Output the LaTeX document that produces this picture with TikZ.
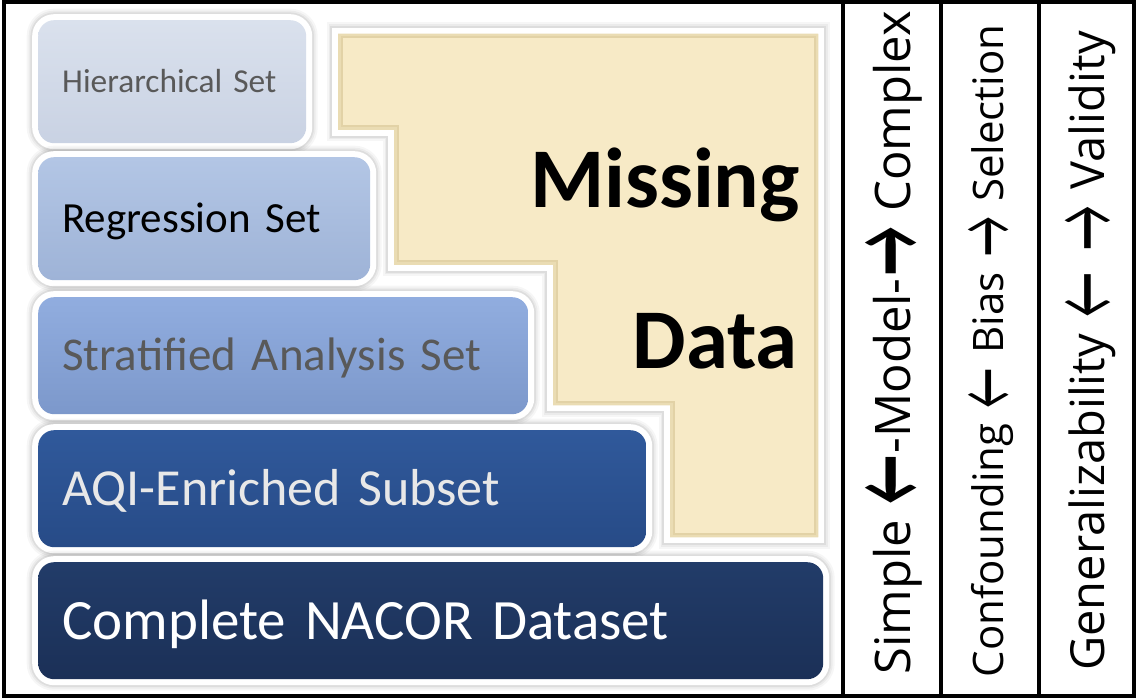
\documentclass[tikz,border=0pt]{standalone}
\usepackage{fontspec}
\usepackage{graphicx}
\setmainfont{Carlito}
\newfontfamily\arrfont{Carlito}
\newfontfamily\colfont{Open Sans}
\usetikzlibrary{backgrounds}
\definecolor{hierTop}{HTML}{DAE1ED}
\definecolor{hierBot}{HTML}{C9D2E3}
\definecolor{regrTop}{HTML}{B3C6E5}
\definecolor{regrBot}{HTML}{9EB3D7}
\definecolor{stratTop}{HTML}{91ADDF}
\definecolor{stratBot}{HTML}{7C98CB}
\definecolor{aqiTop}{HTML}{30599B}
\definecolor{aqiBot}{HTML}{274B87}
\definecolor{compTop}{HTML}{223C69}
\definecolor{compBot}{HTML}{1B3057}
\definecolor{grayText}{HTML}{595959}
\definecolor{lightText}{HTML}{E8E8E8}
\definecolor{ylw}{HTML}{F7EAC6}
\definecolor{ylwEdge}{HTML}{E2D2A6}
\newcommand\larr{\hspace{0.1em}\raisebox{-0.2em}{\scalebox{1.05}[1.8]{\arrfont ←}}\hspace{0.1em}}
\newcommand\rarr{\hspace{0.1em}\raisebox{-0.2em}{\scalebox{1.05}[1.8]{\arrfont →}}\hspace{0.1em}}
\newcommand\larrb{\hspace{0.05em}\raisebox{-0.2em}{\scalebox{1.1}[1.9]{\arrfont\bfseries ←}}\hspace{0.05em}}
\newcommand\rarrb{\hspace{0.05em}\raisebox{-0.2em}{\scalebox{1.1}[1.9]{\arrfont\bfseries →}}\hspace{0.05em}}
\tikzset{
  halo/.style={preaction={draw=black, draw opacity=0.035, line width=23pt},
               preaction={draw=black, draw opacity=0.045, line width=19pt},
               preaction={draw=black, draw opacity=0.06, line width=15.5pt},
               preaction={draw=white, line width=12pt}},
  setbox/.style={halo, rounded corners=16pt, inner xsep=24pt, inner ysep=0pt,
                 anchor=north west, align=left, text depth=0pt},
  coltext/.style={rotate=90, anchor=base, inner sep=0pt},
  bigtext/.style={anchor=base east, inner sep=0pt, font=\bfseries\fontsize{85}{85}\selectfont},
}
\begin{document}
\begin{tikzpicture}[x=1pt,y=-1pt]
\useasboundingbox (0,0) rectangle (1137,700);
\fill[white] (0,0) rectangle (1137,700);

% Missing data shape
\def\ypoly{(338,34) -- (818,34) -- (818,537) -- (670,537) -- (670,405) -- (553,405) -- (553,265) -- (394,265) -- (394,130) -- (338,130) -- cycle}
\draw[black, opacity=0.035, line width=23pt, line join=miter] \ypoly;
\draw[black, opacity=0.045, line width=19pt, line join=miter] \ypoly;
\draw[black, opacity=0.06, line width=15.5pt, line join=miter] \ypoly;
\draw[white, line width=12pt, line join=miter] \ypoly;
\fill[ylw] \ypoly;
\begin{scope}
  \clip \ypoly;
  \draw[ylwEdge, line width=9pt] \ypoly;
  \draw[ylwEdge!60!ylw, line width=5pt] \ypoly;
\end{scope}

% dataset boxes
\node[setbox, top color=hierTop, bottom color=hierBot, text=grayText,
      text width=220pt, minimum height=123pt, text height=21.5pt,
      font=\fontsize{33.4}{36}\selectfont] (hier) at (38,20) {Hierarchical Set};
\node[setbox, top color=regrTop, bottom color=regrBot, text=black,
      text width=284pt, minimum height=123pt, text height=27.7pt,
      font=\fontsize{43}{46}\selectfont] (regr) at (38,157) {Regression Set};
\node[setbox, top color=stratTop, bottom color=stratBot, text=grayText,
      text width=442pt, minimum height=117pt, text height=30.3pt,
      font=\fontsize{47}{52}\selectfont] (strat) at (38,297) {Stratified Analysis Set};
\node[setbox, top color=aqiTop, bottom color=aqiBot, text=lightText,
      text width=560pt, minimum height=117pt, text height=33.5pt,
      font=\fontsize{52}{56}\selectfont] (aqi) at (38,430) {AQI-Enriched Subset};
\node[setbox, top color=compTop, bottom color=compBot, text=white,
      text width=737pt, minimum height=117pt, text height=36.7pt,
      font=\fontsize{57}{62}\selectfont] (comp) at (38,562) {Complete NACOR Dataset};

% Missing Data label
\node[bigtext] (miss) at (800,208) {Missing};
\node[bigtext] (data) at (798,368) {Data};

% frame
\draw[line width=4.5pt] (4,2) rectangle (1134,696);
\draw[line width=4.5pt] (843,2) -- (843,696);
\draw[line width=4.5pt] (941,2) -- (941,696);
\draw[line width=4.5pt] (1039,2) -- (1039,696);

% column texts
\node[coltext, font=\colfont\fontsize{49}{49}\selectfont] (c1) at (910,343)
  {Simple \larrb-Model-\rarrb{} Complex};
\node[coltext, font=\colfont\fontsize{42}{42}\selectfont] (c2) at (1003,351)
  {Confounding \larr{} Bias \rarr{} Selection};
\node[coltext, font=\colfont\fontsize{47}{47}\selectfont] (c3) at (1104,351)
  {Generalizability \larr{} \rarr{} Validity};
\end{tikzpicture}
\end{document}
